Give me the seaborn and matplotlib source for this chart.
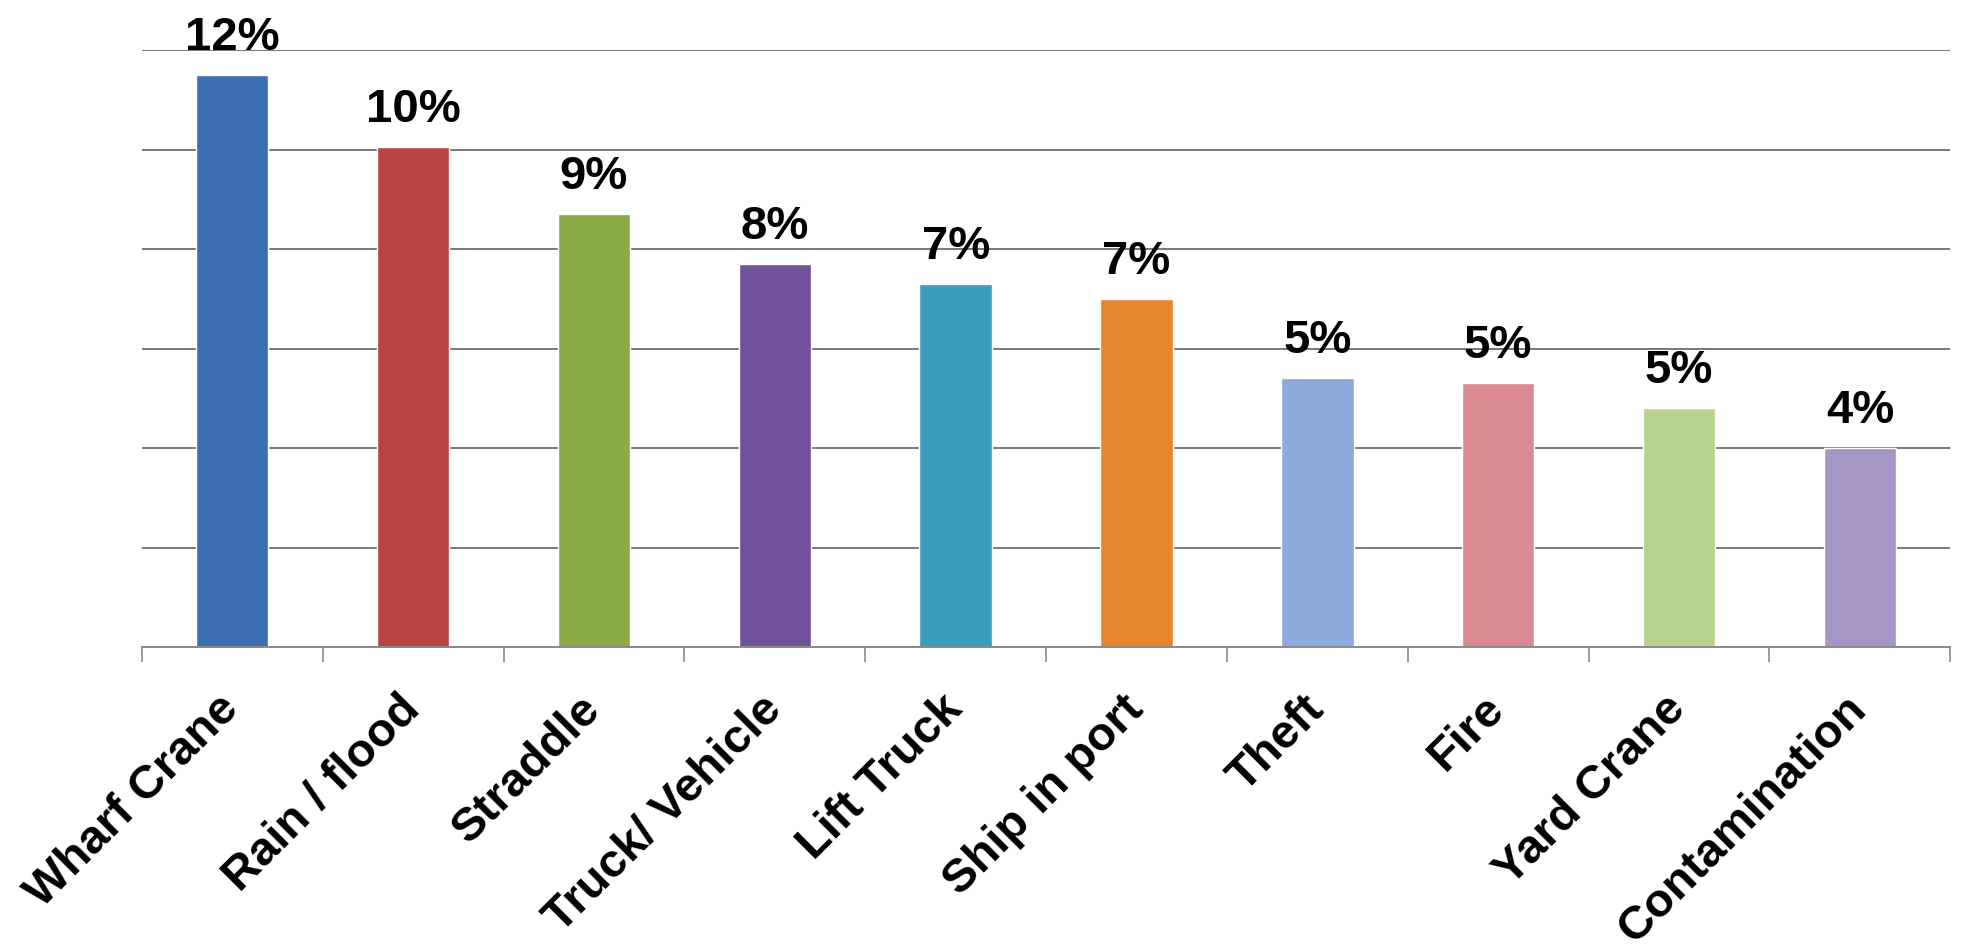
import matplotlib
matplotlib.use("Agg")
import matplotlib.pyplot as plt
import seaborn as sns
import pandas as pd
import numpy as np

categories = ["Wharf Crane", "Rain / flood", "Straddle", "Truck/ Vehicle", "Lift Truck",
              "Ship in port", "Theft", "Fire", "Yard Crane", "Contamination"]
values = [11.5, 10.05, 8.7, 7.7, 7.3, 7.0, 5.4, 5.3, 4.8, 4.0]
value_labels = ["12%", "10%", "9%", "8%", "7%", "7%", "5%", "5%", "5%", "4%"]
colors = ["#3d6eb0", "#b94343", "#8aab45", "#71519a", "#3a9dbb",
          "#e8862f", "#8ea9dc", "#db8a92", "#b6d38d", "#a696c8"]
gridlines = [0, 2, 4, 6, 8, 10, 12]

sns.set_theme(style="white")
plt.rcParams["font.family"] = ["Liberation Sans", "DejaVu Sans"]

df = pd.DataFrame({"category": categories, "value": values})

fig = plt.figure(figsize=(19.7, 9.5), dpi=100)
ax = fig.add_axes([0.072, 0.319, 0.918, 0.628])

sns.barplot(data=df, x="category", y="value", hue="category", palette=colors,
            width=0.4, legend=False, ax=ax, saturation=1)

ax.set_ylim(0, 12)
ax.set_xlim(-0.5, len(categories) - 0.5)
ax.set_yticks(gridlines)
ax.yaxis.grid(True, color="#777777", linewidth=1.4)
ax.xaxis.grid(False)
ax.set_axisbelow(True)
ax.tick_params(axis="y", left=False, labelleft=False)

for side in ["left", "right", "top"]:
    ax.spines[side].set_visible(False)
ax.spines["bottom"].set_color("#8a8a8a")
ax.spines["bottom"].set_linewidth(1.4)

# major ticks at bar centers (labels only), minor ticks at boundaries (marks)
ax.set_xticks(np.arange(len(categories)))
ax.set_xticks(np.arange(len(categories) + 1) - 0.5, minor=True)
ax.tick_params(axis="x", which="major", length=0, pad=40)
ax.tick_params(axis="x", which="minor", length=11, width=1.2, color="#8a8a8a",
               direction="out", bottom=True)
ax.set_xticklabels(categories, rotation=45, ha="right", va="center",
                   rotation_mode="anchor", fontsize=34, fontweight="bold", color="black")
ax.set_xlabel("")
ax.set_ylabel("")

idx = 0
for container in ax.containers:
    for bar in container:
        ax.annotate(value_labels[idx], (bar.get_x() + bar.get_width() / 2, bar.get_height()),
                    xytext=(0, 11), textcoords="offset points", ha="center", va="bottom",
                    fontsize=34, fontweight="bold", color="black", annotation_clip=False)
        idx += 1

fig.savefig("out.png", dpi=100, facecolor="white")
